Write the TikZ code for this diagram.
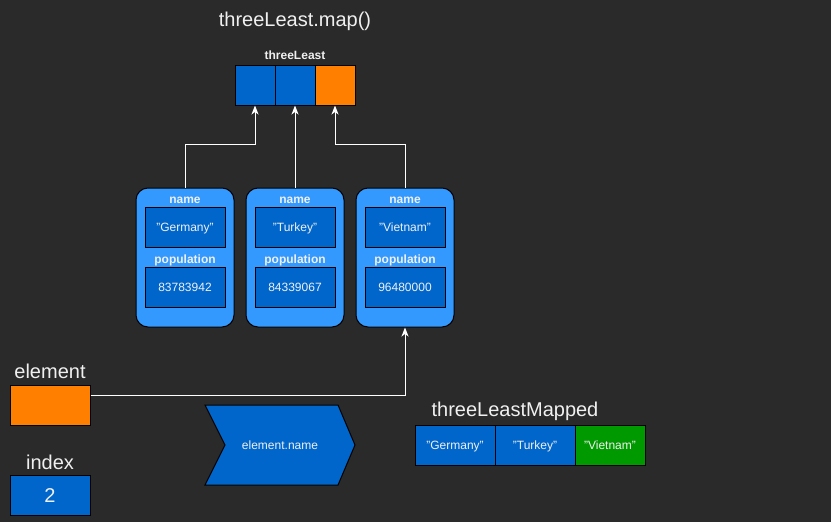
\documentclass[tikz,border=0pt]{standalone}
\usepackage{fontspec}
\setmainfont{Liberation Sans}
\usepackage{xcolor}
\usepackage{tikz}
\usetikzlibrary{calc,positioning,arrows.meta,shapes}
\definecolor{bg}{HTML}{2A2A2A}
\definecolor{cellblue}{HTML}{0066CC}
\definecolor{cardblue}{HTML}{3399FF}
\definecolor{cellorange}{HTML}{FF8000}
\definecolor{cellgreen}{HTML}{009900}
\definecolor{txt}{HTML}{F0F0F0}

\begin{document}
\begin{tikzpicture}[x=1pt,y=-1pt,
  title/.style={text=txt,font=\fontsize{20}{24}\selectfont,inner sep=0pt},
  lbl/.style={text=txt,font=\bfseries\fontsize{12}{14}\selectfont,inner sep=0pt,text height=8.6pt,text depth=0pt},
  cell/.style={draw=black,line width=1pt,fill=cellblue,minimum width=40pt,minimum height=40pt,inner sep=0pt,text=txt,font=\fontsize{12}{14}\selectfont,text height=8.6pt,text depth=0pt},
  card/.style={draw=black,line width=1pt,fill=cardblue,rounded corners=12pt,minimum width=98pt,minimum height=139pt},
  conn/.style={-{Stealth[length=9pt,width=7pt,inset=2.5pt]},draw=white,line width=1pt}]

\fill[bg] (0,0) rectangle (831,522);
\useasboundingbox (0,0) rectangle (831,522);

% threeLeast array
\node[title] (maptitle) at (295,21) {threeLeast.map()};
\node[lbl] (tltitle) at (295,55) {threeLeast};
  \node[cell] (t1) at (255,85) {};
  \node[cell] (t2) at (295,85) {};
  \node[cell,fill=cellorange] (t3) at (335,85) {};

% country objects
  \node[card] (c1) at (185,257.5) {};
  \node[card] (c2) at (295,257.5) {};
  \node[card] (c3) at (405,257.5) {};

  \node[lbl] (l1) at (185,199) {name};
  \node[lbl] (l2) at (295,199) {name};
  \node[lbl] (l3) at (405,199) {name};
  \node[cell,minimum width=80pt] (n1) at (185,227) {"Germany"};
  \node[cell,minimum width=80pt] (n2) at (295,227) {"Turkey"};
  \node[cell,minimum width=80pt] (n3) at (405,227) {"Vietnam"};

  \node[lbl] (q1) at (185,259) {population};
  \node[lbl] (q2) at (295,259) {population};
  \node[lbl] (q3) at (405,259) {population};
  \node[cell,minimum width=80pt] (p1) at (185,287) {83783942};
  \node[cell,minimum width=80pt] (p2) at (295,287) {84339067};
  \node[cell,minimum width=80pt] (p3) at (405,287) {96480000};

  \draw[conn] (c1.north) -- ++(0,-43) -| (t1.south);
  \draw[conn] (c2.north) -- (t2.south);
  \draw[conn] (c3.north) -- ++(0,-43) -| (t3.south);

% element and index
\node[title] (eltitle) at (50,371) {element};
  \node[cell,minimum width=80pt,fill=cellorange] (el) at (50,405) {};
\node[title] (idxtitle) at (50,462) {index};
  \node[cell,minimum width=80pt,font=\fontsize{20}{24}\selectfont,text height=14.3pt] (idx) at (50,495) {2};

  \draw[conn] ([yshift=10pt]el.east) -| (c3.south);

% callback
  \draw[draw=black,line width=1pt,fill=cellblue] (205,405) -- (338,405) -- (355,445) -- (338,485) -- (205,485) -- (225,445) -- cycle;
  \node[text=txt,font=\fontsize{12}{14}\selectfont,inner sep=0pt,text height=8.6pt,text depth=0pt] (cb) at (280,445) {element.name};

% result array
\node[title] (restitle) at (515,411) {threeLeastMapped};
  \node[cell,minimum width=80pt] (m1) at (455,445) {"Germany"};
  \node[cell,minimum width=80pt] (m2) at (535,445) {"Turkey"};
  \node[cell,minimum width=70pt,fill=cellgreen] (m3) at (610,445) {"Vietnam"};
\end{tikzpicture}
\end{document}
